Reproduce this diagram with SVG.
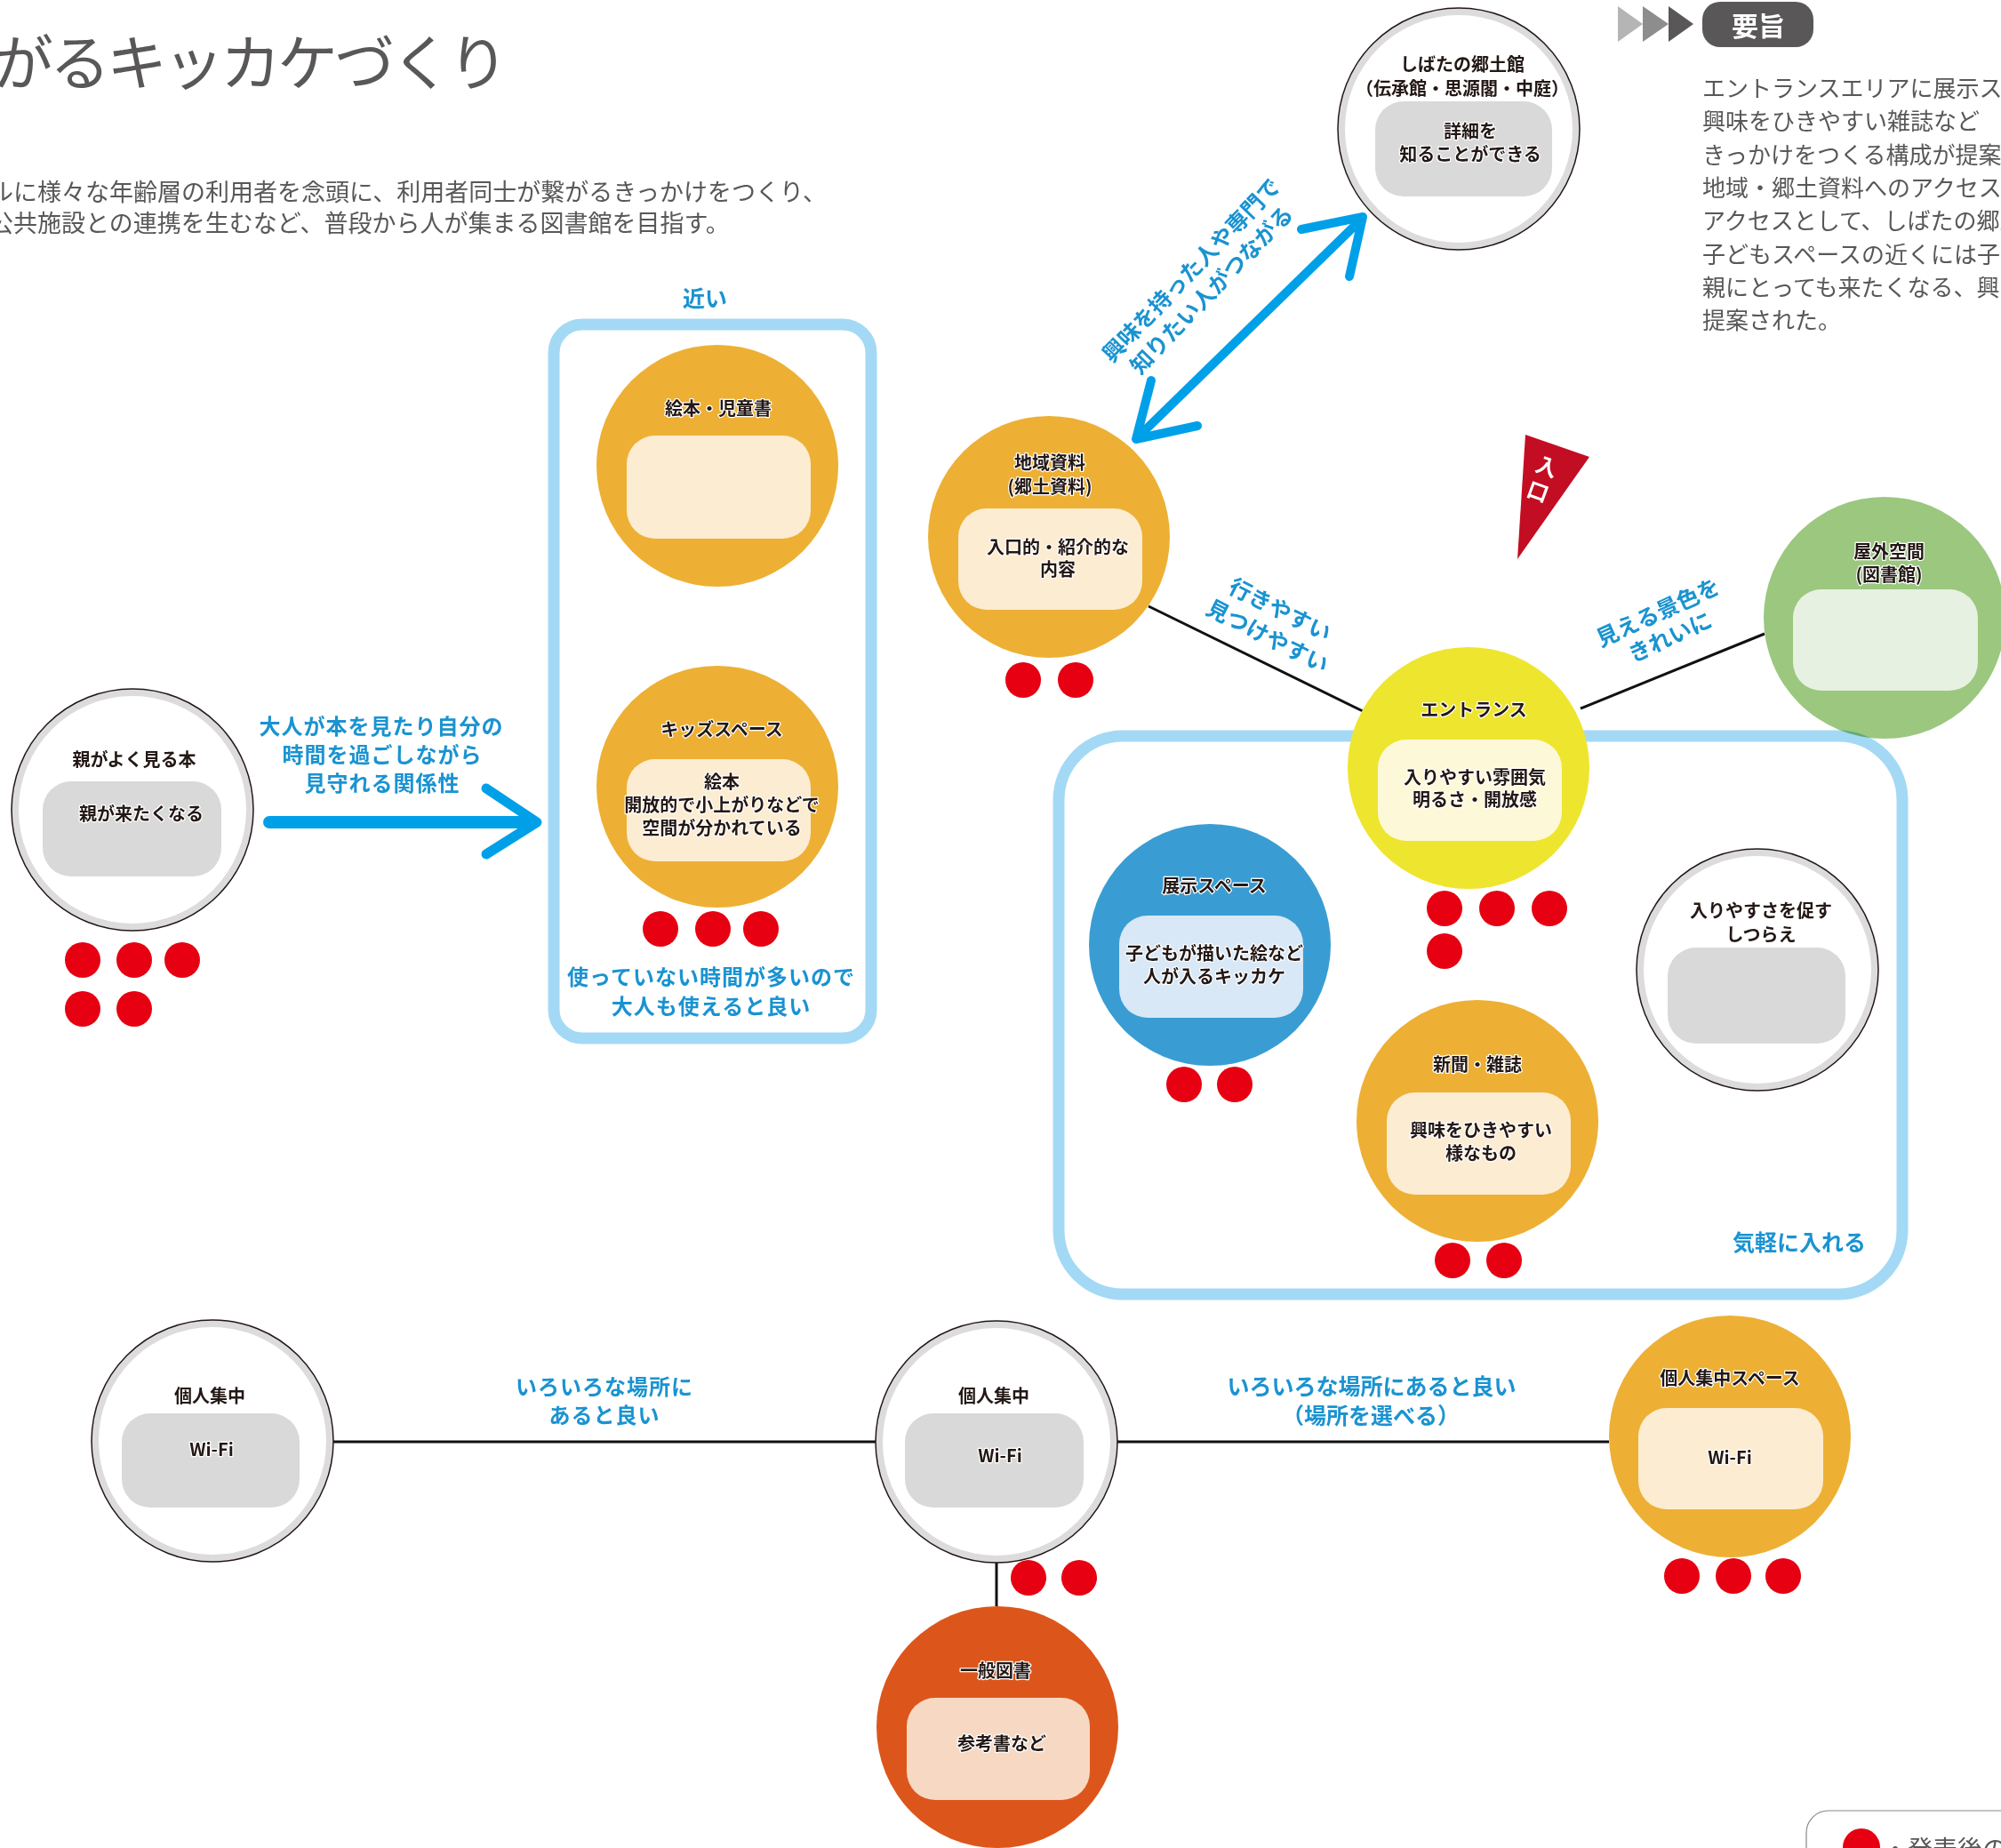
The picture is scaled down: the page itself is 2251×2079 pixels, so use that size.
<svg xmlns="http://www.w3.org/2000/svg" width="2251" height="2079" viewBox="0 0 2251 2079">
<defs>
<style>
.title{font-family:"Noto Sans CJK JP","Noto Sans",sans-serif;font-size:68px;fill:#595757;}
.body{font-family:"Noto Sans CJK JP","Noto Sans",sans-serif;font-size:26px;fill:#595757;}
.sub{font-family:"Noto Sans CJK JP","Noto Sans",sans-serif;font-size:27px;fill:#595757;}
.nt{font-family:"Noto Sans CJK JP","Noto Sans",sans-serif;font-weight:700;font-size:20px;fill:#231815;text-anchor:middle;stroke:#fff;stroke-width:2.5px;paint-order:stroke;stroke-linejoin:round;}
.lbl{font-family:"Noto Sans CJK JP","Noto Sans",sans-serif;font-weight:700;font-size:25px;fill:#1a93d1;text-anchor:middle;}
.lbl2{font-family:"Noto Sans CJK JP","Noto Sans",sans-serif;font-weight:700;font-size:24px;letter-spacing:1px;fill:#1a93d1;text-anchor:middle;}
.dot{fill:#e60012;}
.ring{fill:#dcdcdc;stroke:#231815;stroke-width:1.5;}
.ringin{fill:#fff;}
.or{fill:#edb034;}
.cream{fill:#fcecd2;}
.gin{fill:#d9d9d9;}
.frame{fill:none;stroke:#a3d9f5;stroke-width:13;mix-blend-mode:multiply;}
.conn{stroke:#111;stroke-width:3;fill:none;}
.barrow{stroke:#00a0e9;fill:none;stroke-linecap:round;stroke-linejoin:round;}
</style>
</defs>
<rect width="2251" height="2079" fill="#fff"/>

<!-- header -->
<g id="header">
<text class="title" x="-8" y="96" textLength="580">がるキッカケづくり</text>
<text class="sub" x="-12" y="226">ルに様々な年齢層の利用者を念頭に、利用者同士が繋がるきっかけをつくり、</text>
<text class="sub" x="-12" y="261">公共施設との連携を生むなど、普段から人が集まる図書館を目指す。</text>
<polygon points="1820,7 1848,27 1820,47" fill="#b5b5b5"/>
<polygon points="1848,7 1877,27 1848,47" fill="#8d8d8d"/>
<polygon points="1877,7 1905,27 1877,47" fill="#595757"/>
<rect x="1915" y="2" width="125" height="51" rx="20" fill="#595757"/>
<text x="1978" y="40" font-family="Noto Sans CJK JP, sans-serif" font-weight="700" font-size="30" fill="#fff" text-anchor="middle">要旨</text>
<text class="body" x="1915" y="109">エントランスエリアに展示ス</text>
<text class="body" x="1915" y="146">興味をひきやすい雑誌など</text>
<text class="body" x="1915" y="184">きっかけをつくる構成が提案</text>
<text class="body" x="1915" y="221">地域・郷土資料へのアクセス</text>
<text class="body" x="1915" y="258">アクセスとして、しばたの郷土</text>
<text class="body" x="1915" y="296">子どもスペースの近くには子</text>
<text class="body" x="1915" y="333">親にとっても来たくなる、興</text>
<text class="body" x="1915" y="370">提案された。</text>
</g>

<!-- connectors -->
<g id="connectors">
<line class="conn" x1="1292" y1="682" x2="1533" y2="800"/>
<line class="conn" x1="1778" y1="797" x2="1985" y2="713"/>
<line class="conn" x1="375" y1="1622" x2="985" y2="1622" stroke-width="3.5"/>
<line class="conn" x1="1256" y1="1622" x2="1810" y2="1622" stroke-width="3.5"/>
<line class="conn" x1="1121" y1="1758" x2="1121" y2="1807" stroke-width="2"/>
<line class="barrow" x1="303" y1="925" x2="598" y2="925" stroke-width="14" stroke-linecap="butt"/>
<polyline class="barrow" points="547,887 604,925 547,961" stroke-width="11"/>
<line class="barrow" x1="1285" y1="487" x2="1527" y2="251" stroke-width="10"/>
<polyline class="barrow" points="1347,479 1278,494 1295,428" stroke-width="10"/>
<polyline class="barrow" points="1464,258 1533,244 1518,311" stroke-width="10"/>
</g>

<!-- outdoor node (under frame) -->
<g id="node-outdoor">
<circle cx="2120" cy="695" r="136" fill="#9bc77f"/>
<rect x="2017" y="663" width="208" height="114" rx="32" fill="#e6f1e1"/>
<text class="nt" x="2125" y="628">屋外空間</text>
<text class="nt" x="2125" y="654">(図書館)</text>
</g>

<!-- frames -->
<g id="frames">
<rect class="frame" x="623" y="365" width="357" height="803" rx="32"/>
<rect class="frame" x="1191" y="828" width="949" height="628" rx="72"/>
</g>

<g id="node-shibata">
<circle class="ring" cx="1641" cy="145" r="136"/>
<circle class="ringin" cx="1641" cy="145" r="128"/>
<rect class="gin" x="1547" y="114" width="199" height="107" rx="32"/>
<text class="nt" x="1645" y="80">しばたの郷土館</text>
<text class="nt" x="1645" y="107">（伝承館・思源閣・中庭）</text>
<text class="nt" x="1654" y="155">詳細を</text>
<text class="nt" x="1654" y="181">知ることができる</text>
</g>

<g id="node-chiiki">
<circle class="or" cx="1180" cy="604" r="136"/>
<rect class="cream" x="1078" y="572" width="207" height="114" rx="32"/>
<text class="nt" x="1181" y="528">地域資料</text>
<text class="nt" x="1181" y="555">(郷土資料)</text>
<text class="nt" x="1190" y="623">入口的・紹介的な</text>
<text class="nt" x="1190" y="648">内容</text>
</g>

<g id="node-entrance">
<circle cx="1652" cy="864" r="136" fill="#eee52e"/>
<rect x="1550" y="832" width="207" height="114" rx="32" fill="#fdf9d8"/>
<text class="nt" x="1658" y="806">エントランス</text>
<text class="nt" x="1659" y="882">入りやすい雰囲気</text>
<text class="nt" x="1659" y="907">明るさ・開放感</text>
</g>

<g id="node-tenji">
<circle cx="1361" cy="1063" r="136" fill="#399dd3"/>
<rect x="1259" y="1030" width="207" height="115" rx="32" fill="#d8e8f6"/>
<text class="nt" x="1366" y="1004">展示スペース</text>
<text class="nt" x="1366" y="1080">子どもが描いた絵など</text>
<text class="nt" x="1366" y="1106">人が入るキッカケ</text>
</g>

<g id="node-shinbun">
<circle class="or" cx="1662" cy="1261" r="136"/>
<rect class="cream" x="1560" y="1229" width="207" height="115" rx="32"/>
<text class="nt" x="1662" y="1205">新聞・雑誌</text>
<text class="nt" x="1666" y="1279">興味をひきやすい</text>
<text class="nt" x="1666" y="1305">様なもの</text>
</g>

<g id="node-shitsurae">
<circle class="ring" cx="1977" cy="1091" r="136"/>
<circle class="ringin" cx="1977" cy="1091" r="128"/>
<rect class="gin" x="1876" y="1066" width="200" height="108" rx="32"/>
<text class="nt" x="1981" y="1032">入りやすさを促す</text>
<text class="nt" x="1981" y="1059">しつらえ</text>
</g>

<g id="node-ehon">
<circle class="or" cx="807" cy="524" r="136"/>
<rect class="cream" x="705" y="490" width="207" height="116" rx="32"/>
<text class="nt" x="808" y="467">絵本・児童書</text>
</g>

<g id="node-kids">
<circle class="or" cx="807" cy="885" r="136"/>
<rect class="cream" x="705" y="854" width="207" height="115" rx="32"/>
<text class="nt" x="812" y="828">キッズスペース</text>
<text class="nt" x="812" y="887">絵本</text>
<text class="nt" x="812" y="913">開放的で小上がりなどで</text>
<text class="nt" x="812" y="939">空間が分かれている</text>
</g>

<g id="node-oya">
<circle class="ring" cx="149" cy="911" r="136"/>
<circle class="ringin" cx="149" cy="911" r="128"/>
<rect class="gin" x="48" y="879" width="201" height="107" rx="32"/>
<text class="nt" x="151" y="862">親がよく見る本</text>
<text class="nt" x="159" y="923">親が来たくなる</text>
</g>

<g id="node-kojin1">
<circle class="ring" cx="239" cy="1621" r="136"/>
<circle class="ringin" cx="239" cy="1621" r="128"/>
<rect class="gin" x="137" y="1590" width="200" height="106" rx="32"/>
<text class="nt" x="236" y="1578">個人集中</text>
<text class="nt" x="238" y="1638">Wi-Fi</text>
</g>

<g id="node-kojin2">
<circle class="ring" cx="1121" cy="1622" r="136"/>
<circle class="ringin" cx="1121" cy="1622" r="128"/>
<rect class="gin" x="1018" y="1590" width="201" height="106" rx="32"/>
<text class="nt" x="1118" y="1578">個人集中</text>
<text class="nt" x="1125" y="1645">Wi-Fi</text>
</g>

<g id="node-ippan">
<circle cx="1122" cy="1943" r="136" fill="#dc561c"/>
<rect x="1020" y="1910" width="206" height="115" rx="32" fill="#f7d9c3"/>
<text class="nt" x="1120" y="1887">一般図書</text>
<text class="nt" x="1127" y="1969">参考書など</text>
</g>

<g id="node-kojinspace">
<circle class="or" cx="1946" cy="1616" r="136"/>
<rect class="cream" x="1843" y="1584" width="208" height="114" rx="32"/>
<text class="nt" x="1946" y="1558">個人集中スペース</text>
<text class="nt" x="1946" y="1647">Wi-Fi</text>
</g>

<!-- entrance flag -->
<g id="flag">
<polygon points="1716,489 1788,514 1707,629" fill="#c30d23"/>
<text x="1740" y="534" transform="rotate(20 1740 525)" font-family="Noto Sans CJK JP, sans-serif" font-weight="700" font-size="24" fill="#fff" text-anchor="middle">入</text>
<text x="1730" y="562" transform="rotate(20 1730 553)" font-family="Noto Sans CJK JP, sans-serif" font-weight="700" font-size="24" fill="#fff" text-anchor="middle">口</text>
</g>

<!-- red dots -->
<g id="dots">
<circle class="dot" cx="1151" cy="765" r="20"/><circle class="dot" cx="1210" cy="765" r="20"/>
<circle class="dot" cx="1625" cy="1022" r="20"/><circle class="dot" cx="1684" cy="1022" r="20"/><circle class="dot" cx="1743" cy="1022" r="20"/><circle class="dot" cx="1625" cy="1070" r="20"/>
<circle class="dot" cx="1332" cy="1220" r="20"/><circle class="dot" cx="1389" cy="1220" r="20"/>
<circle class="dot" cx="1634" cy="1418" r="20"/><circle class="dot" cx="1692" cy="1418" r="20"/>
<circle class="dot" cx="743" cy="1045" r="20"/><circle class="dot" cx="802" cy="1045" r="20"/><circle class="dot" cx="856" cy="1045" r="20"/>
<circle class="dot" cx="93" cy="1080" r="20"/><circle class="dot" cx="151" cy="1080" r="20"/><circle class="dot" cx="205" cy="1080" r="20"/><circle class="dot" cx="93" cy="1135" r="20"/><circle class="dot" cx="151" cy="1135" r="20"/>
<circle class="dot" cx="1157" cy="1775" r="20"/><circle class="dot" cx="1214" cy="1775" r="20"/>
<circle class="dot" cx="1892" cy="1773" r="20"/><circle class="dot" cx="1950" cy="1773" r="20"/><circle class="dot" cx="2006" cy="1773" r="20"/>
</g>

<!-- labels -->
<g id="labels">
<text class="lbl" x="793" y="345">近い</text>
<text class="lbl2" x="800" y="1108">使っていない時間が多いので</text>
<text class="lbl2" x="800" y="1141">大人も使えると良い</text>
<text class="lbl2" x="429" y="826">大人が本を見たり自分の</text>
<text class="lbl2" x="430" y="858">時間を過ごしながら</text>
<text class="lbl2" x="430" y="890">見守れる関係性</text>
<g transform="translate(1340,304) rotate(-46)">
<text class="lbl" x="0" y="9">興味を持った人や専門で</text>
<text class="lbl" x="0" y="41">知りたい人がつながる</text>
</g>
<g transform="translate(1440,686) rotate(27)">
<text class="lbl" x="0" y="9">行きやすい</text>
<text class="lbl" x="1" y="42">見つけやすい</text>
</g>
<g transform="translate(1865,689) rotate(-24.5)">
<text class="lbl" x="0" y="9">見える景色を</text>
<text class="lbl" x="1" y="40">きれいに</text>
</g>
<text class="lbl" x="2024" y="1407">気軽に入れる</text>
<text class="lbl2" x="680" y="1569">いろいろな場所に</text>
<text class="lbl2" x="680" y="1601">あると良い</text>
<text class="lbl" x="1543" y="1569">いろいろな場所にあると良い</text>
<text class="lbl" x="1542" y="1602">（場所を選べる）</text>
</g>

<!-- legend -->
<g id="legend">
<rect x="2032" y="2037" width="300" height="100" rx="25" fill="#fff" stroke="#888" stroke-width="1.2"/>
<circle class="dot" cx="2094" cy="2078" r="21"/>
<text x="2118" y="2091" font-family="Noto Sans CJK JP, sans-serif" font-size="28" fill="#595757">・発表後の</text>
</g>
</svg>
